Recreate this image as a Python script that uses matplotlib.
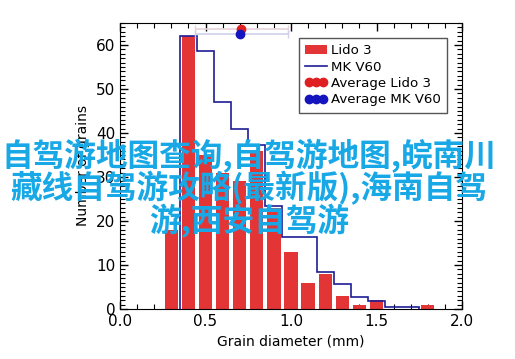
import numpy as np
import matplotlib
matplotlib.use('Agg')
import matplotlib.pyplot as plt
from matplotlib.ticker import MultipleLocator

# Lido 3 histogram (bars centred on bin)
lido_x = [0.3, 0.4, 0.5, 0.6, 0.7, 0.8, 0.9, 1.0, 1.1, 1.2, 1.3, 1.4, 1.5, 1.6, 1.7, 1.8]
lido_n = [18, 62, 35, 31, 29, 36, 23, 13, 6, 8, 3, 1, 2, 0, 0, 1]

# MK V60 histogram (step outline), bin edges
mk_edges = [0.35, 0.45, 0.55, 0.65, 0.75, 0.85, 0.95, 1.05, 1.15, 1.25, 1.35, 1.45, 1.55, 1.65, 1.75]
mk_n = [62, 58.6, 47.1, 40.8, 37.3, 23.3, 16.3, 16.3, 8.3, 5.7, 2.8, 1.8, 0.4, 0.4]

# averages with spread
avg_lido = (0.705, 63.6)
avg_mk = (0.70, 62.5)
avg_range = (0.44, 0.98)

overlay = "自驾游地图查询,自驾游地图,皖南川\n藏线自驾游攻略(最新版),海南自驾\n游,西安自驾游"

fig = plt.figure(figsize=(5.15, 3.59), dpi=100)
ax = fig.add_axes([120/515, 50/359, 342/515, 286/359])

b = ax.bar(lido_x, lido_n, width=0.078, color='#e33535', label='Lido 3', zorder=2)
s = ax.stairs(mk_n, mk_edges, color='#1c1c96', lw=1.2, label='MK V60', zorder=3)

handles = [b, s]
for (ax_, ay), col, ecol, lab in [(avg_lido, '#e02020', '#e6d2d8', 'Average Lido 3'),
                                   (avg_mk, '#1515c0', '#d0d0ea', 'Average MK V60')]:
    e = ax.errorbar(ax_, ay, xerr=[[ax_ - avg_range[0]], [avg_range[1] - ax_]],
                    fmt='o', color=col, ms=6, ecolor=ecol, elinewidth=1.2, capsize=3,
                    label=lab, zorder=4)
    handles.append(e[0])

ax.set_xlim(0, 2.0)
ax.set_ylim(0, 65)
ax.xaxis.set_major_locator(MultipleLocator(0.5))
ax.xaxis.set_minor_locator(MultipleLocator(0.1))
ax.yaxis.set_major_locator(MultipleLocator(10))
ax.yaxis.set_minor_locator(MultipleLocator(1))
ax.xaxis.set_major_formatter(matplotlib.ticker.FormatStrFormatter('%.1f'))
ax.tick_params(which='both', direction='in', top=True, right=True, labelsize=11, width=1)
ax.tick_params(which='major', length=6)
ax.tick_params(which='minor', length=3.5, width=0.8)
ax.set_xlabel('Grain diameter (mm)', fontsize=10)
ax.set_ylabel('Number of grains', fontsize=10)

leg = ax.legend(handles, ['Lido 3', 'MK V60', 'Average Lido 3', 'Average MK V60'],
                loc='upper right', fontsize=9.6, numpoints=3, fancybox=False,
                edgecolor='#555555', framealpha=1, handlelength=1.6,
                borderaxespad=1.1, handletextpad=0.3, labelspacing=0.25,
                borderpad=0.5)

fig.text(0.484, 0.475, overlay, ha='center', va='center', color='#18a8e6',
         fontsize=22.8, fontweight='bold', linespacing=0.93,
         family=['Noto Sans CJK SC', 'DejaVu Sans'], zorder=10)

fig.savefig('out.png', dpi=100)
